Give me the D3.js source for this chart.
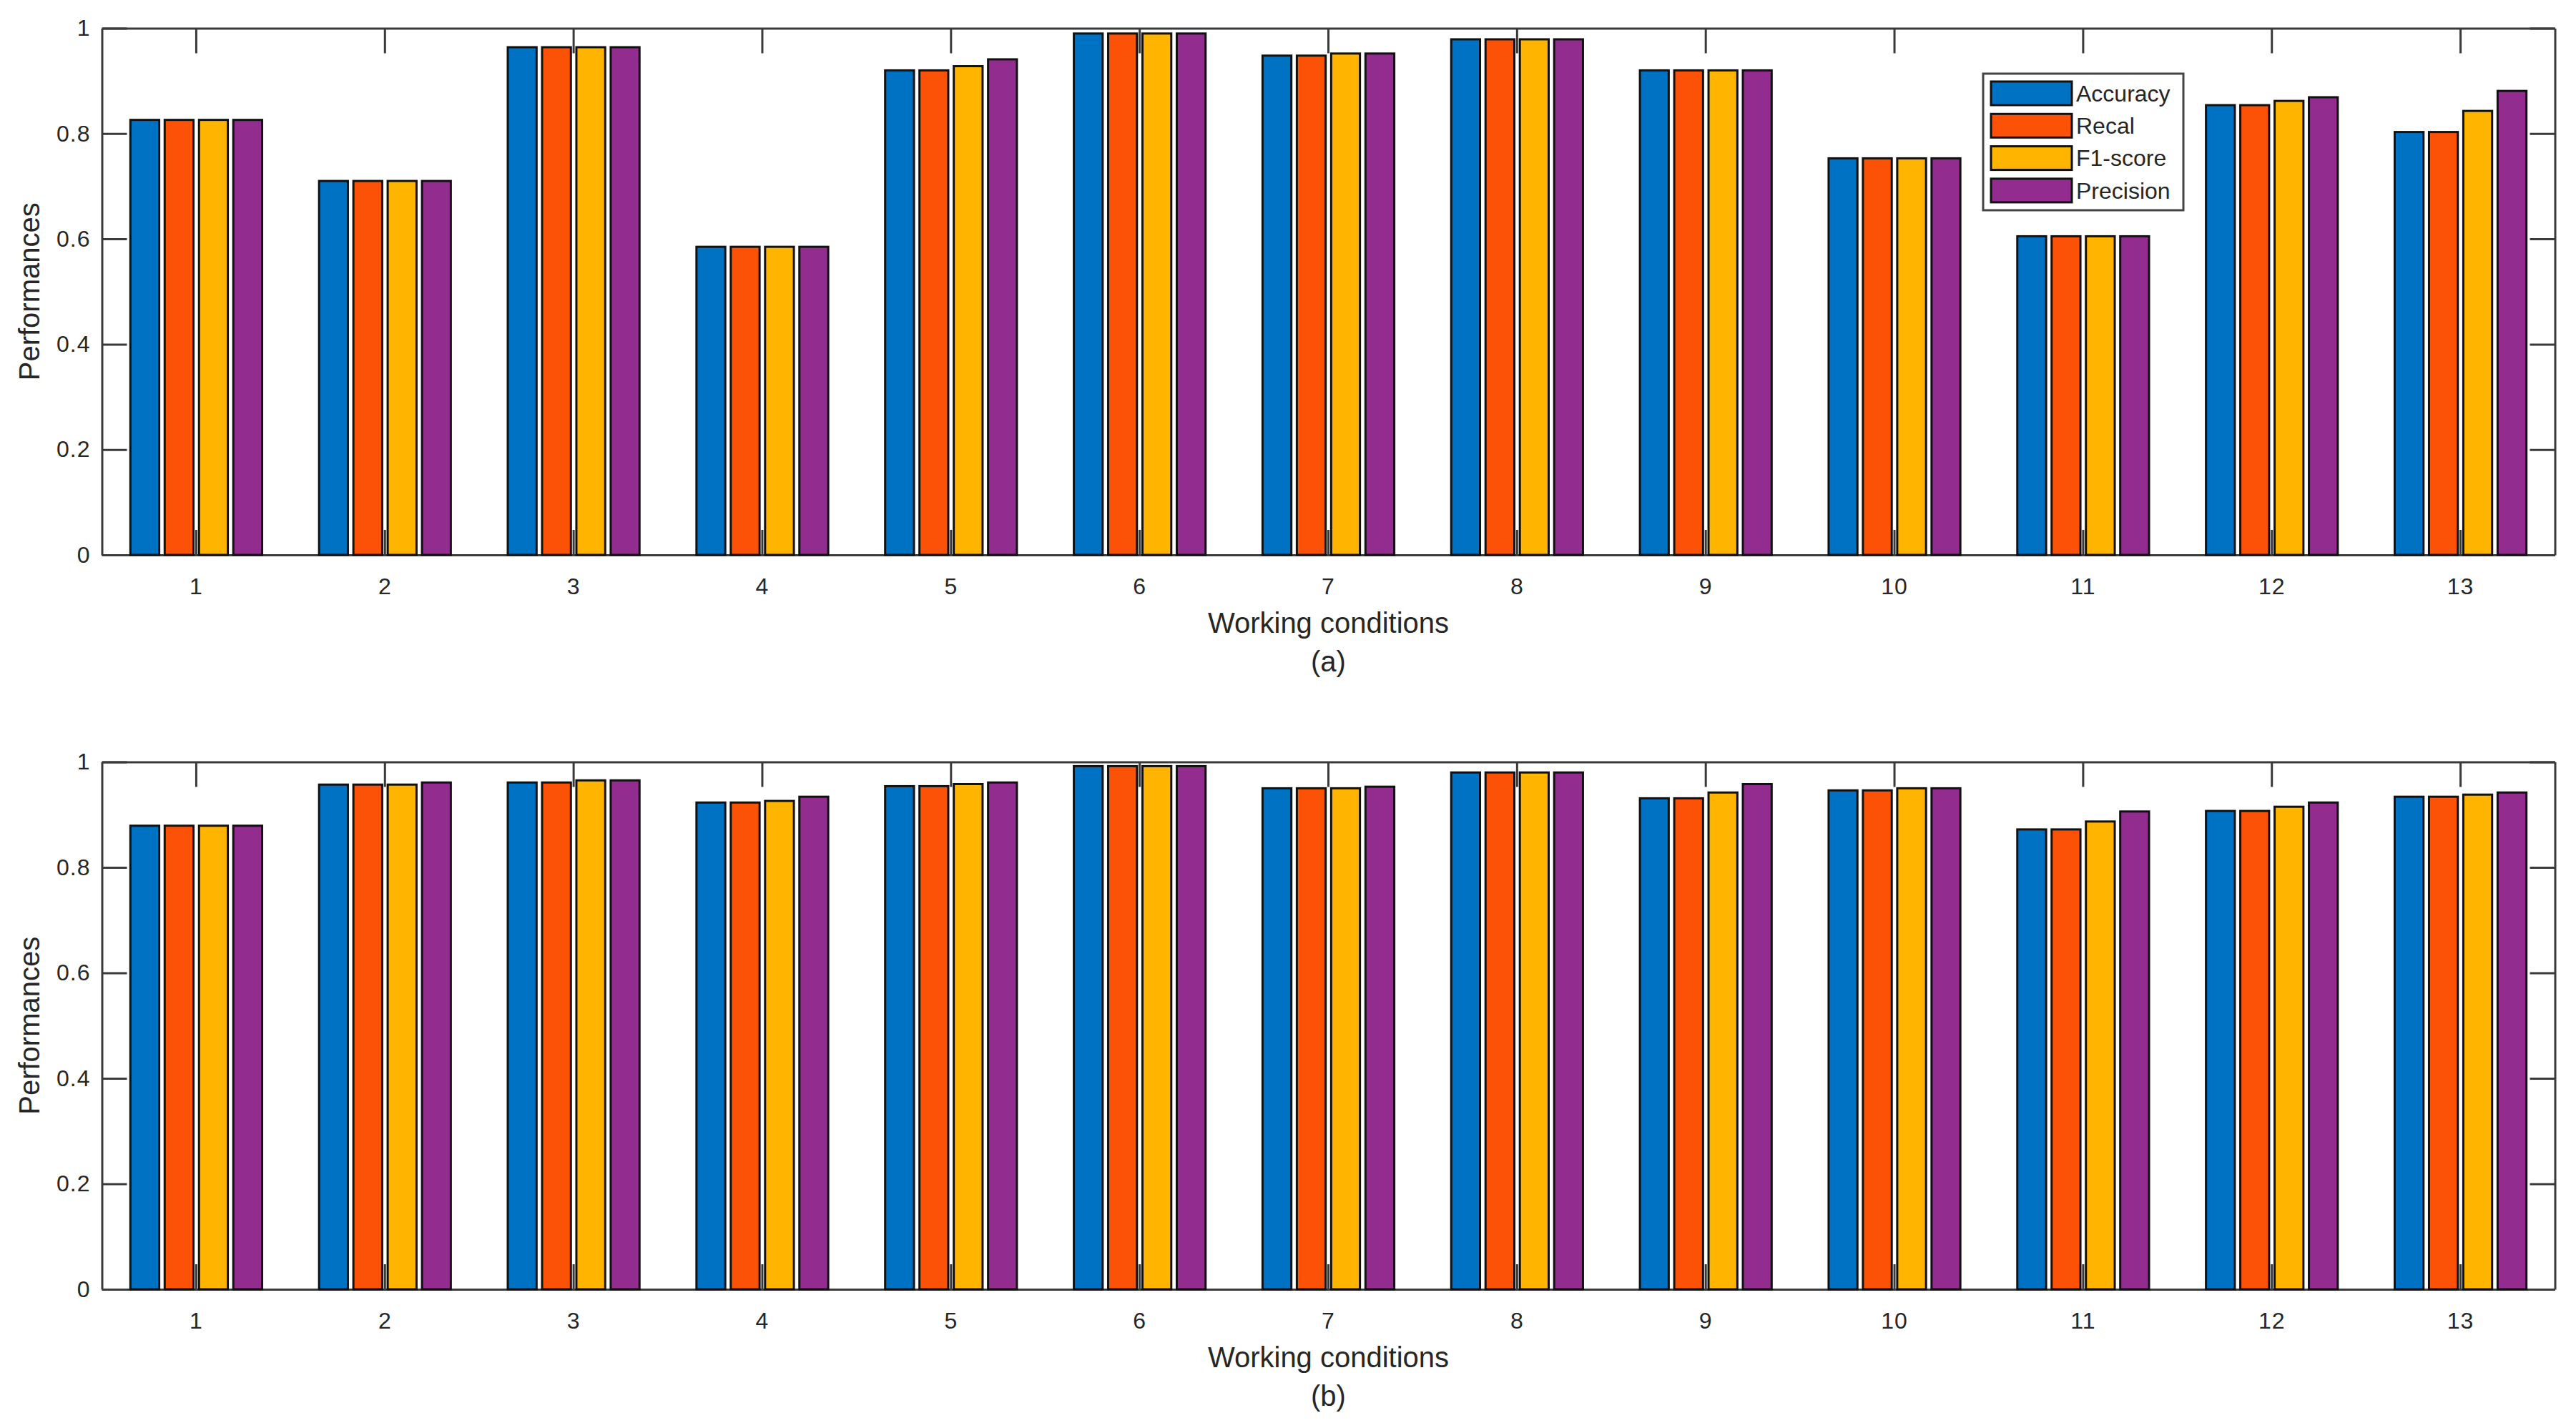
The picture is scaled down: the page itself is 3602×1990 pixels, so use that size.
<!DOCTYPE html>
<meta charset="utf-8">
<style>
body{margin:0;background:#fff;}
text{font-family:"Liberation Sans",Arial,sans-serif;fill:#262626;}
.axis path,.axis line{stroke:#3a3a3a;stroke-width:3px;}
.axis text{font-size:32px;font-family:"Liberation Sans",Arial,sans-serif;fill:#262626;letter-spacing:1px;}
.bar{stroke:#111;stroke-width:3px;}
.lbl{font-size:40px;}
</style>
<svg width="3602" height="1990"></svg>
<script src="https://d3js.org/d3.v7.min.js"></script>
<script>

var conditions = ["1","2","3","4","5","6","7","8","9","10","11","12","13"];
var seriesNames = ["Accuracy","Recal","F1-score","Precision"];
var colors = ["#0072C4","#FC5207","#FFB400","#922C8F"];
var yTicks = [0,0.2,0.4,0.6,0.8,1];

// panel (a)
var accuracyA  = [0.826,0.710,0.964,0.585,0.920,0.990,0.948,0.979,0.920,0.753,0.605,0.854,0.803];
var recallA    = [0.826,0.710,0.964,0.585,0.920,0.990,0.948,0.979,0.920,0.753,0.605,0.854,0.803];
var f1A        = [0.826,0.710,0.964,0.585,0.928,0.990,0.952,0.979,0.920,0.753,0.605,0.862,0.843];
var precisionA = [0.826,0.710,0.964,0.585,0.941,0.990,0.952,0.979,0.920,0.753,0.605,0.869,0.881];

// panel (b)
var accuracyB  = [0.879,0.957,0.961,0.923,0.954,0.992,0.950,0.980,0.931,0.946,0.872,0.907,0.934];
var recallB    = [0.879,0.957,0.961,0.923,0.954,0.992,0.950,0.980,0.931,0.946,0.872,0.907,0.934];
var f1B        = [0.879,0.957,0.965,0.926,0.958,0.992,0.950,0.980,0.942,0.950,0.887,0.915,0.938];
var precisionB = [0.879,0.961,0.965,0.934,0.961,0.992,0.953,0.980,0.958,0.950,0.906,0.923,0.942];

var svg = d3.select("svg"),
    left = 142.5, right = 3572.5;

var panels = [
  {top: 39.5, bottom: 776, tag: "(a)", values: [accuracyA, recallA, f1A, precisionA], legend: true},
  {top: 1065.5, bottom: 1803, tag: "(b)", values: [accuracyB, recallB, f1B, precisionB], legend: false}
];

var x0 = d3.scaleBand()
    .domain(conditions)
    .range([left, right])
    .paddingInner(0.2727)
    .paddingOuter(0.13635);

var x1 = d3.scaleBand()
    .domain(seriesNames)
    .range([0, x0.bandwidth()])
    .paddingInner(0.16)
    .paddingOuter(0.08);

var color = d3.scaleOrdinal().domain(seriesNames).range(colors);
var fmt = d3.format("~g");

panels.forEach(function(p) {
  var y = d3.scaleLinear().domain([0, 1]).range([p.bottom, p.top]);
  var g = svg.append("g");

  // box with inward ticks on all four sides
  g.append("g").attr("class", "axis")
      .attr("transform", "translate(0," + p.bottom + ")")
      .call(d3.axisBottom(x0).tickSizeInner(-35).tickSizeOuter(0).tickPadding(32));
  g.append("g").attr("class", "axis")
      .attr("transform", "translate(0," + p.top + ")")
      .call(d3.axisTop(x0).tickSizeInner(-35).tickSizeOuter(0).tickFormat(""));
  g.append("g").attr("class", "axis")
      .attr("transform", "translate(" + left + ",0)")
      .call(d3.axisLeft(y).tickValues(yTicks).tickFormat(fmt).tickSizeInner(-35).tickSizeOuter(0).tickPadding(16));
  g.append("g").attr("class", "axis")
      .attr("transform", "translate(" + right + ",0)")
      .call(d3.axisRight(y).tickValues(yTicks).tickFormat("").tickSizeInner(-35).tickSizeOuter(0));
  g.selectAll(".axis .domain").attr("fill", "none");

  var rows = conditions.map(function(c, i) {
    return {cond: c, vals: seriesNames.map(function(s, j) { return {key: s, value: p.values[j][i]}; })};
  });

  g.append("g").selectAll("g")
    .data(rows)
    .join("g")
      .attr("transform", function(d) { return "translate(" + x0(d.cond) + ",0)"; })
    .selectAll("rect")
    .data(function(d) { return d.vals; })
    .join("rect")
      .attr("class", "bar")
      .attr("x", function(d) { return x1(d.key); })
      .attr("width", x1.bandwidth())
      .attr("y", function(d) { return y(d.value); })
      .attr("height", function(d) { return y(0) - y(d.value); })
      .attr("fill", function(d) { return color(d.key); });

  var cx = (left + right) / 2;
  g.append("text").attr("class", "lbl")
      .attr("x", cx).attr("y", p.bottom + 109)
      .attr("text-anchor", "middle")
      .text("Working conditions");
  g.append("text").attr("class", "lbl")
      .attr("x", cx).attr("y", p.bottom + 163)
      .attr("text-anchor", "middle")
      .text(p.tag);
  g.append("text").attr("class", "lbl")
      .attr("transform", "translate(55," + ((p.top + p.bottom) / 2) + ") rotate(-90)")
      .attr("text-anchor", "middle")
      .text("Performances");

  if (p.legend) {
    var lg = g.append("g").attr("transform", "translate(2773,103)");
    lg.append("rect")
        .attr("width", 280).attr("height", 191)
        .attr("fill", "#fff").attr("stroke", "#444").attr("stroke-width", 3);
    var item = lg.selectAll(".item")
      .data(seriesNames)
      .join("g")
        .attr("class", "item")
        .attr("transform", function(d, i) { return "translate(11," + (11 + i * 45.3) + ")"; });
    item.append("rect")
        .attr("class", "bar")
        .attr("width", 113).attr("height", 33)
        .attr("fill", function(d) { return color(d); });
    item.append("text")
        .attr("x", 119).attr("y", 16.5)
        .attr("dy", "0.35em")
        .style("font-size", "32px")
        .text(function(d) { return d; });
  }
});

</script>
